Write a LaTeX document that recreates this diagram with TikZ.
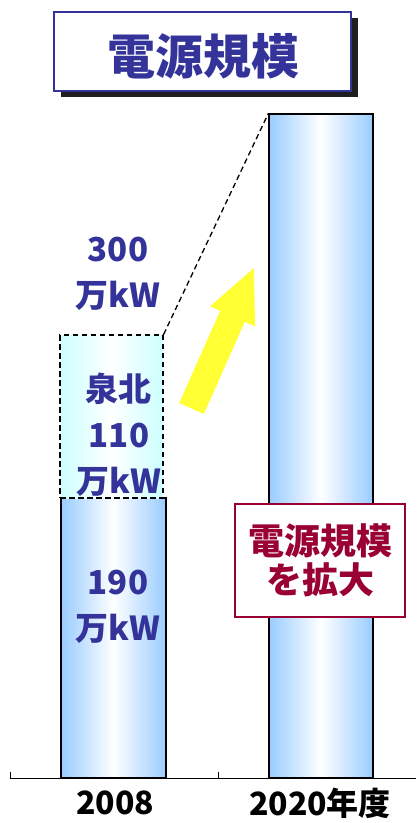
\documentclass[tikz,border=0pt]{standalone}
\usepackage{fontspec}
\setmainfont{Noto Sans CJK JP}
\definecolor{navy}{HTML}{333399}
\definecolor{barblue}{HTML}{99CCFF}
\definecolor{lightcyan}{HTML}{CCFFFF}
\definecolor{wine}{HTML}{990033}
\definecolor{arrowyellow}{HTML}{FFFF33}
\tikzset{
  bar/.style={draw=black, line width=1.3pt, left color=barblue, right color=barblue, middle color=white, inner sep=0pt},
  newbar/.style={draw=black, line width=1.3pt, dash pattern=on 5.5pt off 3.5pt, left color=lightcyan, right color=lightcyan, middle color=white, inner sep=0pt},
  lbl/.style={text=navy, font=\fontsize{33}{46}\selectfont\bfseries, align=center, inner sep=0pt},
  axlbl/.style={text=black, font=\fontsize{32}{40}\selectfont\bfseries, inner sep=0pt},
}
\begin{document}
\begin{tikzpicture}[x=1pt,y=-1pt]
\useasboundingbox (0,0) rectangle (416,823);
% title
\fill[black!88] (61,18) rectangle (358,97);
\node[draw=navy, line width=1.5pt, fill=white, minimum width=297pt, minimum height=79pt, inner sep=0pt] (title) at (202.5,51.5) {};
\node[text=navy, font=\fontsize{48}{50}\selectfont\bfseries, inner sep=0pt] (titletext) at (203,56) {電源規模};
% axis
\coordinate (axL) at (10,778);
\coordinate (axR) at (416,778);
\coordinate (t1) at (10,772);
\coordinate (t2a) at (218,778);
\coordinate (t2b) at (218,772);
\draw[line width=0.9pt] (axL) -- (axR);
\draw[line width=0.9pt] (axL) -- (t1);
\draw[line width=0.9pt] (t2a) -- (t2b);
% bars
\node[bar, minimum width=105pt, minimum height=280pt] (low) at (113.5,638) {};
\node[newbar, minimum width=103pt, minimum height=163pt] (new) at (111.5,416.5) {};
\node[bar, minimum width=104pt, minimum height=664pt] (big) at (321,446) {};
% dashed connector
\draw[line width=1.3pt, dash pattern=on 5.5pt off 3.5pt] (new.north east) -- (big.north west);
% arrow
\fill[arrowyellow] (179.2,403.0) -- (220.2,310.8) -- (210.0,306.3) -- (253.9,268.1) -- (255.1,326.3) -- (244.8,321.8) -- (203.8,414.0) -- cycle;
% labels
\node[lbl] (l300) at (118,274) {300\\万kW};
\node[lbl] (l110) at (119,435) {泉北\\110\\万kW};
\node[lbl] (l190) at (118,607) {190\\万kW};
% red box
\node[draw=wine, line width=1.5pt, fill=white, minimum width=170pt, minimum height=113pt, inner sep=0pt,
      text=wine, font=\fontsize{36}{39}\selectfont\bfseries, align=center] (redbox) at (320,560.5) {電源規模\\を拡大};
% axis labels
\node[axlbl] (y2008) at (115,803) {2008};
\node[axlbl] (y2020) at (320,803) {2020年度};
\end{tikzpicture}
\end{document}
